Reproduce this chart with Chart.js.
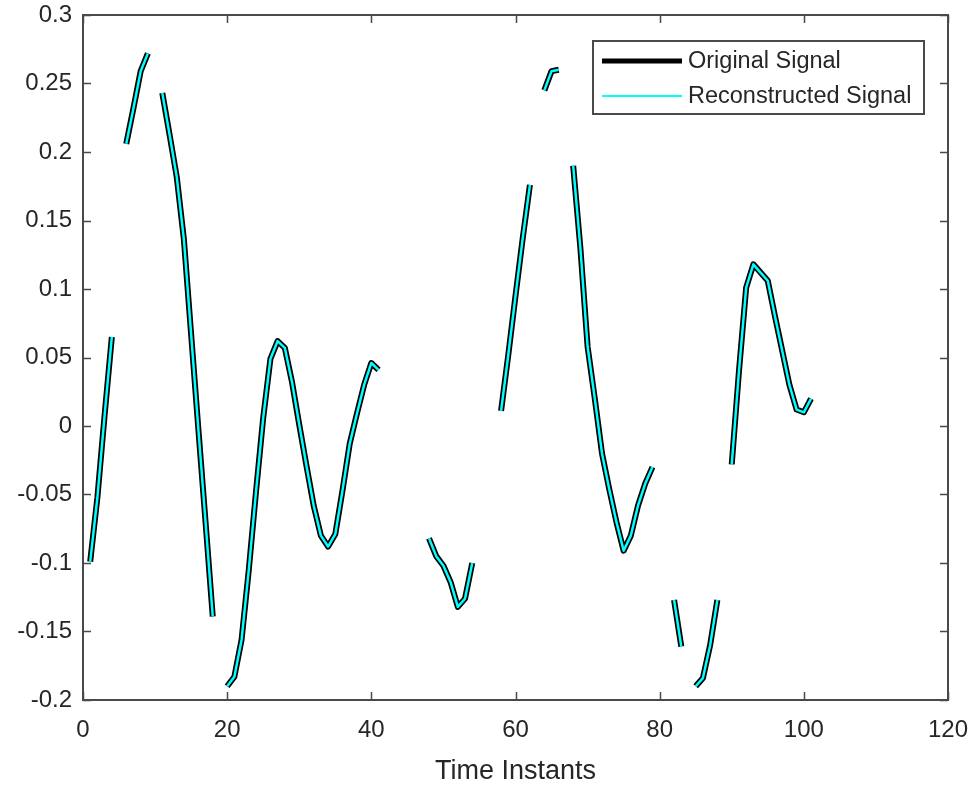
<!DOCTYPE html>
<html>
<head>
<meta charset="utf-8">
<script src="https://cdn.jsdelivr.net/npm/chart.js@4/dist/chart.umd.min.js"></script>
<style>
html, body { margin: 0; padding: 0; background: #ffffff; }
#wrap { width: 976px; height: 785px; }
</style>
</head>
<body>
<div id="wrap"><canvas id="c" width="976" height="785"></canvas></div>
<script>
// ---------- data ----------
const timeInstants = [
  1, 2, 3, 4, 5, 6, 7, 8, 9, 10,
  11, 12, 13, 14, 15, 16, 17, 18, 19, 20,
  21, 22, 23, 24, 25, 26, 27, 28, 29, 30,
  31, 32, 33, 34, 35, 36, 37, 38, 39, 40,
  41, 42, 43, 44, 45, 46, 47, 48, 49, 50,
  51, 52, 53, 54, 55, 56, 57, 58, 59, 60,
  61, 62, 63, 64, 65, 66, 67, 68, 69, 70,
  71, 72, 73, 74, 75, 76, 77, 78, 79, 80,
  81, 82, 83, 84, 85, 86, 87, 88, 89, 90,
  91, 92, 93, 94, 95, 96, 97, 98, 99, 100,
  101
];
const originalSignal = [
  -0.099, -0.052, 0.008, 0.065, null, 0.206, 0.232, 0.259, 0.272, null,
  0.243, 0.213, 0.182, 0.136, 0.067, -0.002, -0.070, -0.139, null, -0.190,
  -0.183, -0.156, -0.105, -0.048, 0.006, 0.049, 0.062, 0.057, 0.032, 0.001,
  -0.029, -0.058, -0.080, -0.088, -0.079, -0.047, -0.013, 0.009, 0.030, 0.046,
  0.041, null, null, null, null, null, null, -0.082, -0.095, -0.102,
  -0.114, -0.132, -0.126, -0.100, null, null, null, 0.011, 0.052, 0.095,
  0.137, 0.176, null, 0.245, 0.259, 0.260, null, 0.190, 0.130, 0.058,
  0.020, -0.020, -0.046, -0.070, -0.091, -0.080, -0.058, -0.042, -0.030, null,
  null, -0.127, -0.161, null, -0.190, -0.184, -0.160, -0.127, null, -0.028,
  0.040, 0.101, 0.118, 0.112, 0.106, 0.080, 0.055, 0.030, 0.012, 0.010,
  0.020
];
const reconstructedSignal = [
  -0.099, -0.052, 0.008, 0.065, null, 0.206, 0.232, 0.259, 0.272, null,
  0.243, 0.213, 0.182, 0.136, 0.067, -0.002, -0.070, -0.139, null, -0.190,
  -0.183, -0.156, -0.105, -0.048, 0.006, 0.049, 0.062, 0.057, 0.032, 0.001,
  -0.029, -0.058, -0.080, -0.088, -0.079, -0.047, -0.013, 0.009, 0.030, 0.046,
  0.041, null, null, null, null, null, null, -0.082, -0.095, -0.102,
  -0.114, -0.132, -0.126, -0.100, null, null, null, 0.011, 0.052, 0.095,
  0.137, 0.176, null, 0.245, 0.259, 0.260, null, 0.190, 0.130, 0.058,
  0.020, -0.020, -0.046, -0.070, -0.091, -0.080, -0.058, -0.042, -0.030, null,
  null, -0.127, -0.161, null, -0.190, -0.184, -0.160, -0.127, null, -0.028,
  0.040, 0.101, 0.118, 0.112, 0.106, 0.080, 0.055, 0.030, 0.012, 0.010,
  0.020
];
const xTickValues = [0, 20, 40, 60, 80, 100, 120];
const yTickValues = [-0.2, -0.15, -0.1, -0.05, 0, 0.05, 0.1, 0.15, 0.2, 0.25, 0.3];
const seriesNames = ['Original Signal', 'Reconstructed Signal'];
const xAxisTitle = 'Time Instants';

// ---------- styling ----------
const FONT = "'Liberation Sans', Arial, Helvetica, sans-serif";
const TEXT = '#262626';
const AXIS = '#4a4a4a';

function toPoints(vals) {
  return timeInstants.map((t, i) => ({ x: t, y: vals[i] }));
}

const frameAndLegend = {
  id: 'frameAndLegend',
  afterDatasetsDraw(chart) {
    const { ctx, chartArea: a, scales } = chart;
    ctx.save();
    // frame
    ctx.strokeStyle = AXIS;
    ctx.lineWidth = 2;
    ctx.strokeRect(a.left, a.top, a.right - a.left, a.bottom - a.top);
    // inner ticks
    ctx.lineWidth = 1.5;
    ctx.beginPath();
    scales.x.ticks.forEach(t => {
      const px = Math.round(scales.x.getPixelForValue(t.value)) + 0.5;
      ctx.moveTo(px, a.bottom); ctx.lineTo(px, a.bottom - 8);
      ctx.moveTo(px, a.top); ctx.lineTo(px, a.top + 8);
    });
    scales.y.ticks.forEach(t => {
      const py = Math.round(scales.y.getPixelForValue(t.value)) + 0.5;
      ctx.moveTo(a.left, py); ctx.lineTo(a.left + 8, py);
      ctx.moveTo(a.right, py); ctx.lineTo(a.right - 8, py);
    });
    ctx.stroke();

    // legend box (top-right inside plot)
    const bx = a.right - 355, by = a.top + 26, bw = 331, bh = 73;
    ctx.fillStyle = '#ffffff';
    ctx.fillRect(bx, by, bw, bh);
    ctx.strokeStyle = AXIS;
    ctx.lineWidth = 2;
    ctx.strokeRect(bx, by, bw, bh);
    const ds = chart.data.datasets;
    const order = [0, 1];
    const rowsY = [by + 20, by + 55];
    const widths = [5, 2];
    ctx.font = '23.5px ' + FONT;
    ctx.textBaseline = 'middle';
    ctx.textAlign = 'left';
    order.forEach((di, r) => {
      ctx.strokeStyle = ds[di].borderColor;
      ctx.lineWidth = widths[r];
      ctx.lineCap = 'butt';
      ctx.beginPath();
      ctx.moveTo(bx + 9, rowsY[r]);
      ctx.lineTo(bx + 89, rowsY[r]);
      ctx.stroke();
      ctx.fillStyle = TEXT;
      ctx.fillText(ds[di].label, bx + 95, rowsY[r] + 1);
    });
    ctx.restore();
  }
};

new Chart(document.getElementById('c'), {
  type: 'line',
  data: {
    datasets: [
      {
        label: seriesNames[0],
        data: toPoints(originalSignal),
        borderColor: '#000000',
        backgroundColor: '#000000',
        borderWidth: 6,
        pointRadius: 0,
        tension: 0,
        spanGaps: false,
        borderCapStyle: 'butt',
        borderJoinStyle: 'round',
        order: 2
      },
      {
        label: seriesNames[1],
        data: toPoints(reconstructedSignal),
        borderColor: '#00FFFF',
        backgroundColor: '#00FFFF',
        borderWidth: 2.5,
        pointRadius: 0,
        tension: 0,
        spanGaps: false,
        borderCapStyle: 'butt',
        borderJoinStyle: 'round',
        order: 1
      }
    ]
  },
  options: {
    responsive: false,
    animation: false,
    devicePixelRatio: 1,
    layout: { padding: { top: 15, right: 28, left: 0, bottom: 0 } },
    plugins: {
      legend: { display: false },
      tooltip: { enabled: false },
      title: { display: false }
    },
    scales: {
      x: {
        type: 'linear',
        min: 0,
        max: 120,
        afterBuildTicks: s => { s.ticks = xTickValues.map(v => ({ value: v })); },
        afterFit: s => { s.height = 85; s.paddingLeft = 0; s.paddingRight = 0; },
        grid: { display: false, drawTicks: false },
        border: { display: false },
        ticks: {
          padding: 16,
          color: TEXT,
          font: { family: FONT, size: 24 },
          maxRotation: 0,
          callback: v => String(v)
        },
        title: {
          display: true,
          text: xAxisTitle,
          color: TEXT,
          font: { family: FONT, size: 27, lineHeight: 1 },
          padding: { top: 0, bottom: 0 }
        }
      },
      y: {
        type: 'linear',
        min: -0.2,
        max: 0.3,
        afterBuildTicks: s => { s.ticks = yTickValues.map(v => ({ value: v })); },
        afterFit: s => { s.width = 83; s.paddingTop = 0; s.paddingBottom = 0; },
        grid: { display: false, drawTicks: false },
        border: { display: false },
        ticks: {
          padding: 11,
          color: TEXT,
          font: { family: FONT, size: 24 },
          callback: v => String(Math.round(v * 100) / 100)
        }
      }
    }
  },
  plugins: [frameAndLegend]
});
</script>
</body>
</html>
